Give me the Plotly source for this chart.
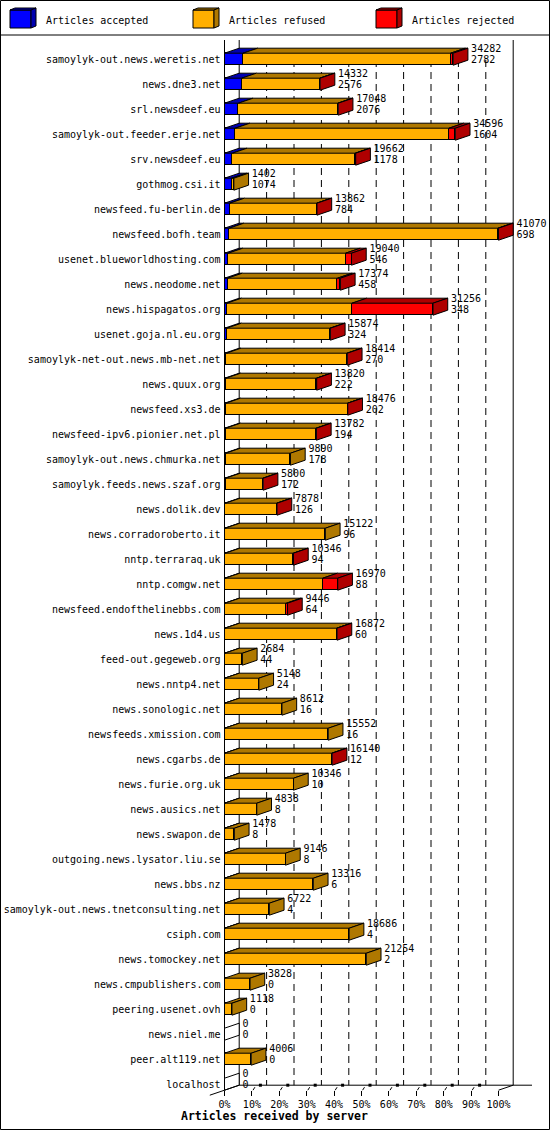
import plotly.graph_objects as go

# Data
hosts = [
    "samoylyk-out.news.weretis.net", "news.dne3.net", "srl.newsdeef.eu",
    "samoylyk-out.feeder.erje.net", "srv.newsdeef.eu", "gothmog.csi.it",
    "newsfeed.fu-berlin.de", "newsfeed.bofh.team", "usenet.blueworldhosting.com",
    "news.neodome.net", "news.hispagatos.org", "usenet.goja.nl.eu.org",
    "samoylyk-net-out.news.mb-net.net", "news.quux.org", "newsfeed.xs3.de",
    "newsfeed-ipv6.pionier.net.pl", "samoylyk-out.news.chmurka.net",
    "samoylyk.feeds.news.szaf.org", "news.dolik.dev", "news.corradoroberto.it",
    "nntp.terraraq.uk", "nntp.comgw.net", "newsfeed.endofthelinebbs.com",
    "news.1d4.us", "feed-out.gegeweb.org", "news.nntp4.net", "news.sonologic.net",
    "newsfeeds.xmission.com", "news.cgarbs.de", "news.furie.org.uk",
    "news.ausics.net", "news.swapon.de", "outgoing.news.lysator.liu.se",
    "news.bbs.nz", "samoylyk-out.news.tnetconsulting.net", "csiph.com",
    "news.tomockey.net", "news.cmpublishers.com", "peering.usenet.ovh",
    "news.niel.me", "peer.alt119.net", "localhost",
]
totals = [
    34282, 14332, 17048, 34596, 19662, 1402, 13862, 41070, 19040, 17374,
    31256, 15874, 18414, 13820, 18476, 13782, 9890, 5800, 7878, 15122,
    10346, 16970, 9446, 16872, 2684, 5148, 8612, 15552, 16140, 10346,
    4838, 1478, 9146, 13316, 6722, 18686, 21254, 3828, 1118, 0, 4006, 0,
]
accepted = [
    2782, 2576, 2076, 1604, 1178, 1074, 784, 698, 546, 458,
    348, 324, 270, 222, 202, 194, 178, 172, 126, 96,
    94, 88, 64, 60, 44, 24, 16, 16, 12, 10,
    8, 8, 8, 6, 4, 4, 2, 0, 0, 0, 0, 0,
]
rejected = [
    400, 60, 50, 950, 70, 0, 40, 80, 900, 450,
    12140, 60, 50, 40, 40, 50, 0, 30, 40, 0,
    30, 2250, 180, 60, 0, 0, 0, 0, 40, 0,
    0, 0, 0, 0, 0, 0, 0, 0, 0, 0, 0, 0,
]
refused = [t - a - r for t, a, r in zip(totals, accepted, rejected)]

series_names = ["Articles accepted", "Articles refused", "Articles rejected"]
front_colors = ["#0000ff", "#ffaf00", "#ff0000"]
dark_colors = ["#0000af", "#af7800", "#af0000"]
tick_pcts = list(range(0, 101, 10))
tick_labels = [f"{p}%" for p in tick_pcts]
x_title = "Articles received by server"

# canvas geometry in pixels
W, H = 550, 1130
X0 = 224.5        # front face of 0 %
PX_PCT = 2.74     # pixels per percent
Y0 = 59.2         # centre of first row
ROW = 25
DEPTH_X, DEPTH_Y = 14.7, 5
BAR_H = 12
FONT = "DejaVu Sans Mono"


def fx(px):
    return (px - X0) / PX_PCT


def fy(py):
    return (py - Y0) / ROW


dx = DEPTH_X / PX_PCT
dy = DEPTH_Y / ROW
half = BAR_H / 2 / ROW
n = len(hosts)
peak = max(totals)


def pct(v):
    return v / peak * 100


values = [accepted, refused, rejected]
fig = go.Figure()

# front faces
for k in range(3):
    fig.add_trace(go.Bar(
        y=list(range(n)), x=[pct(v) for v in values[k]], orientation="h",
        width=BAR_H / ROW, marker=dict(color=front_colors[k], line=dict(color="black", width=1)),
        hoverinfo="skip", showlegend=False,
    ))

# top faces and end faces
tops = {c: ([], []) for c in dark_colors}
sides = {}
for i in range(n):
    cum = [0]
    for k in range(3):
        cum.append(cum[-1] + pct(values[k][i]))
    yt, yb = i - half, i + half
    last = None
    for k in range(3):
        if values[k][i] > 0:
            last = k
            xs, ys = tops[dark_colors[k]]
            c0, c1 = cum[k], cum[k + 1]
            xs += [c0, c1, c1 + dx, c0 + dx, c0, None]
            ys += [yt, yt, yt - dy, yt - dy, yt, None]
    col = dark_colors[last] if last is not None else "#ffffff"
    xs, ys = sides.setdefault(col, ([], []))
    c3 = cum[3]
    xs += [c3, c3 + dx, c3 + dx, c3, c3, None]
    ys += [yt, yt - dy, yb - dy, yb, yt, None]

for group in (tops, sides):
    for col, (xs, ys) in group.items():
        if not xs:
            continue
        fig.add_trace(go.Scatter(
            x=xs, y=ys, mode="lines", fill="toself", fillcolor=col,
            line=dict(color="black", width=1), hoverinfo="skip", showlegend=False,
        ))

# value labels
label_x = [pct(t) + dx + 3.2 / PX_PCT for t in totals]
fig.add_trace(go.Scatter(
    x=label_x, y=[i - 0.37 for i in range(n)], mode="text", text=[str(t) for t in totals],
    textposition="middle right", textfont=dict(family=FONT, size=10, color="black"),
    hoverinfo="skip", showlegend=False,
))
fig.add_trace(go.Scatter(
    x=label_x, y=[i + 0.07 for i in range(n)], mode="text", text=[str(a) for a in accepted],
    textposition="middle right", textfont=dict(family=FONT, size=10, color="black"),
    hoverinfo="skip", showlegend=False,
))

shapes = []
line_k = dict(color="black", width=1)
top_y = fy(40)
front_floor = (n - 1) + half
back_floor = front_floor - dy

# walls and grid
shapes.append(dict(type="line", x0=0, x1=0, y0=top_y, y1=front_floor, line=line_k, layer="below"))
shapes.append(dict(type="line", x0=dx, x1=dx, y0=top_y, y1=back_floor, line=line_k, layer="below"))
shapes.append(dict(type="line", x0=100 + dx, x1=100 + dx, y0=top_y, y1=back_floor, line=line_k, layer="below"))
for p in tick_pcts[1:-1]:
    shapes.append(dict(type="line", x0=p + dx, x1=p + dx, y0=fy(60), y1=back_floor,
                       line=dict(color="black", width=1, dash="7px,5px"), layer="below"))
# floor
shapes.append(dict(type="line", x0=dx, x1=fx(532), y0=back_floor, y1=back_floor, line=line_k))
shapes.append(dict(type="line", x0=-dx, x1=dx, y0=front_floor + dy, y1=back_floor, line=line_k))
shapes.append(dict(type="line", x0=100, x1=100 + dx, y0=front_floor, y1=back_floor, line=line_k))
for p in tick_pcts[1:-1]:
    shapes.append(dict(type="line", x0=p + 0.4, x1=p + 1.1, y0=front_floor, y1=front_floor - 0.12, line=line_k))
    shapes.append(dict(type="rect", x0=p + fx(X0 + 7), x1=p + fx(X0 + 10), y0=back_floor - 0.06,
                       y1=back_floor + 0.06, fillcolor="black", line=dict(width=0)))

# outer border and legend separator
shapes.append(dict(type="rect", x0=fx(0.5), x1=fx(W - 0.5), y0=fy(0.5), y1=fy(H - 0.5), line=line_k))
shapes.append(dict(type="line", x0=fx(0), x1=fx(W), y0=fy(35), y1=fy(35), line=line_k))

# legend swatches
annotations = []
for k, name in enumerate(series_names):
    lx = 10 + 183 * k
    shapes.append(dict(type="rect", x0=fx(lx), x1=fx(lx + 21), y0=fy(10), y1=fy(28),
                       fillcolor=front_colors[k], line=line_k))
    shapes.append(dict(type="path", fillcolor=dark_colors[k], line=line_k,
                       path=f"M{fx(lx)},{fy(10)} L{fx(lx + 5)},{fy(8)} L{fx(lx + 26)},{fy(8)} L{fx(lx + 21)},{fy(10)} Z"))
    shapes.append(dict(type="path", fillcolor=dark_colors[k], line=line_k,
                       path=f"M{fx(lx + 21)},{fy(10)} L{fx(lx + 26)},{fy(8)} L{fx(lx + 26)},{fy(26)} L{fx(lx + 21)},{fy(28)} Z"))
    annotations.append(dict(x=fx(lx + 34), y=fy(20), text=name, showarrow=False, xanchor="left",
                            yanchor="middle", font=dict(family=FONT, size=10, color="black")))

annotations.append(dict(x=fx(274), y=fy(1116), text=f"<b>{x_title}</b>", showarrow=False,
                        xanchor="center", yanchor="middle", font=dict(family=FONT, size=11.5, color="black")))

fig.update_layout(
    width=W, height=H, autosize=False,
    margin=dict(l=0, r=0, t=0, b=0),
    paper_bgcolor="white", plot_bgcolor="white",
    barmode="stack", bargap=0,
    shapes=shapes, annotations=annotations,
    xaxis=dict(range=[fx(0), fx(W)], anchor="free", position=1 - (Y0 + (n - 1) * ROW + BAR_H / 2) / H,
               tickvals=tick_pcts, ticktext=tick_labels, ticks="outside", ticklen=5, tickwidth=1,
               tickcolor="black", showgrid=False, zeroline=False, showline=False,
               tickfont=dict(family=FONT, size=10, color="black"), fixedrange=True),
    yaxis=dict(range=[fy(H), fy(0)], anchor="free", position=X0 / W,
               tickvals=list(range(n)), ticktext=hosts, ticks="", showgrid=False,
               zeroline=False, showline=False, ticklabelstandoff=4,
               tickfont=dict(family=FONT, size=10, color="black"), fixedrange=True),
)

fig.write_html("out.html", config={"displayModeBar": False},
               post_script="document.body.style.margin='0';")
